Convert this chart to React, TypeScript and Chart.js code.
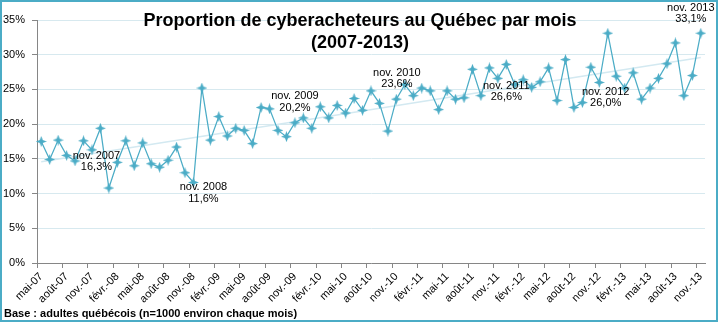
import React, { useEffect, useRef } from 'react';
import { Chart, registerables } from 'chart.js';

Chart.register(...registerables);

// ---- DATA ----
const categories: string[] = [
  'mai-07', 'juin-07', 'juil.-07', 'août-07', 'sept.-07', 'oct.-07', 'nov.-07', 'déc.-07',
  'janv.-08', 'févr.-08', 'mars-08', 'avr.-08', 'mai-08', 'juin-08', 'juil.-08', 'août-08', 'sept.-08', 'oct.-08', 'nov.-08', 'déc.-08',
  'janv.-09', 'févr.-09', 'mars-09', 'avr.-09', 'mai-09', 'juin-09', 'juil.-09', 'août-09', 'sept.-09', 'oct.-09', 'nov.-09', 'déc.-09',
  'janv.-10', 'févr.-10', 'mars-10', 'avr.-10', 'mai-10', 'juin-10', 'juil.-10', 'août-10', 'sept.-10', 'oct.-10', 'nov.-10', 'déc.-10',
  'janv.-11', 'févr.-11', 'mars-11', 'avr.-11', 'mai-11', 'juin-11', 'juil.-11', 'août-11', 'sept.-11', 'oct.-11', 'nov.-11', 'déc.-11',
  'janv.-12', 'févr.-12', 'mars-12', 'avr.-12', 'mai-12', 'juin-12', 'juil.-12', 'août-12', 'sept.-12', 'oct.-12', 'nov.-12', 'déc.-12',
  'janv.-13', 'févr.-13', 'mars-13', 'avr.-13', 'mai-13', 'juin-13', 'juil.-13', 'août-13', 'sept.-13', 'oct.-13', 'nov.-13',
];

const cyberacheteurs: number[] = [
  17.5, 14.9, 17.7, 15.5, 14.7, 17.6, 16.3, 19.4,
  10.8, 14.5, 17.6, 14.0, 17.3, 14.3, 13.8, 14.8, 16.7, 13.0, 11.6, 25.2,
  17.7, 21.1, 18.3, 19.4, 19.1, 17.2, 22.4, 22.2, 19.1, 18.2, 20.2, 20.9,
  19.4, 22.5, 20.9, 22.7, 21.6, 23.7, 22.0, 24.8, 23.0, 19.0, 23.6, 25.7,
  24.1, 25.2, 24.8, 22.1, 24.8, 23.6, 23.8, 27.9, 24.1, 28.1, 26.6, 28.6,
  25.7, 26.4, 25.3, 26.1, 28.1, 23.4, 29.3, 22.4, 23.1, 28.2, 26.0, 33.1,
  26.9, 25.2, 27.4, 23.6, 25.2, 26.6, 28.7, 31.7, 24.1, 27.0, 33.1,
];

// trend line end values
const trendStart = 14.6;
const trendEnd = 29.6;

const yTicks: number[] = [0, 5, 10, 15, 20, 25, 30, 35];

const annotatedIndex: number[] = [6, 18, 30, 42, 54, 66, 78];
const annotatedTitle: string[] = ['nov. 2007', 'nov. 2008', 'nov. 2009', 'nov. 2010', 'nov. 2011', 'nov. 2012', 'nov. 2013'];

const titleLines: string[] = ['Proportion de cyberacheteurs au Québec par mois', '(2007-2013)'];
const footerText = 'Base : adultes québécois (n=1000 environ chaque mois)';

// ---- STYLE ----
const annotationOffsets: Array<[number, number]> = [
  [4.5, 6], [10, 5], [0, -26.5], [0.5, -26.5], [8.5, 7.5], [6.4, 9], [-10, -25.4],
];
const LINE_COLOR = '#4bacc6';
const AXIS_COLOR = '#868686';
const GRID_COLOR = '#d7e9ef';
const TREND_COLOR = '#d3e9f1';
const FONT = '"Liberation Sans", Arial, sans-serif';

function makeMarker(): HTMLCanvasElement {
  const c = document.createElement('canvas');
  c.width = 11;
  c.height = 11;
  const g = c.getContext('2d')!;
  g.fillStyle = LINE_COLOR;
  g.beginPath();
  const cx = 5.5, cy = 5.5, R = 5.5, r = 2.1;
  for (let k = 0; k < 8; k++) {
    const a = -Math.PI / 2 + (k * Math.PI) / 4;
    const rr = k % 2 === 0 ? R : r;
    const px = cx + rr * Math.cos(a);
    const py = cy + rr * Math.sin(a);
    if (k === 0) g.moveTo(px, py); else g.lineTo(px, py);
  }
  g.closePath();
  g.fill();
  return c;
}

const fmt = (v: number) => v.toFixed(1).replace('.', ',') + '%';

export default function App() {
  const ref = useRef<HTMLCanvasElement | null>(null);

  useEffect(() => {
    document.body.style.margin = '0';
    const canvas = ref.current;
    if (!canvas) return;
    const marker = makeMarker();
    const last = categories.length - 1;
    const trend = categories.map((_, i) => (i === 0 ? trendStart : i === last ? trendEnd : null));

    const textPlugin = {
      id: 'texts',
      afterDraw(chart: any) {
        const ctx = chart.ctx as CanvasRenderingContext2D;
        ctx.save();
        ctx.fillStyle = '#000';
        ctx.textAlign = 'center';
        ctx.textBaseline = 'middle';
        ctx.font = `bold 18px ${FONT}`;
        ctx.fillText(titleLines[0], 360, 21);
        ctx.fillText(titleLines[1], 360, 43);

        const meta = chart.getDatasetMeta(0);
        ctx.font = `11px ${FONT}`;
        annotatedIndex.forEach((idx, k) => {
          const pt = meta.data[idx];
          const [dx, dy] = annotationOffsets[k];
          ctx.fillText(annotatedTitle[k], pt.x + dx, pt.y + dy);
          ctx.fillText(fmt(cyberacheteurs[idx]), pt.x + dx, pt.y + dy + 11.5);
        });

        ctx.textAlign = 'left';
        ctx.font = `bold 11px ${FONT}`;
        ctx.fillText(footerText, 4, 314);
        ctx.restore();
      },
    };

    const chart = new Chart(canvas, {
      type: 'line',
      data: {
        labels: categories,
        datasets: [
          {
            data: cyberacheteurs,
            borderColor: LINE_COLOR,
            backgroundColor: LINE_COLOR,
            borderWidth: 1.25,
            pointStyle: marker as any,
            pointRadius: 5,
            tension: 0,
            order: 0,
          },
          {
            data: trend as any,
            borderColor: TREND_COLOR,
            borderWidth: 1.5,
            pointRadius: 0,
            spanGaps: true,
            order: 1,
          },
        ],
      },
      options: {
        animation: false,
        responsive: false,
        maintainAspectRatio: false,
        layout: { padding: { left: 0, right: 14, top: 20, bottom: 0 } },
        plugins: {
          legend: { display: false },
          title: { display: false },
          tooltip: { enabled: false },
        },
        scales: {
          x: {
            type: 'category',
            offset: true,
            grid: {
              offset: true,
              drawOnChartArea: false,
              drawTicks: true,
              tickLength: 5,
              color: (c: any) => (c.index % 3 === 0 ? AXIS_COLOR : 'rgba(0,0,0,0)'),
              tickColor: (c: any) => (c.index % 3 === 0 ? AXIS_COLOR : 'rgba(0,0,0,0)'),
            },
            border: { display: true, color: AXIS_COLOR, width: 1 },
            ticks: {
              autoSkip: false,
              maxRotation: 45,
              minRotation: 45,
              padding: 2,
              color: '#000',
              font: { family: FONT, size: 11 },
              callback: (_v: any, i: number) => (i % 3 === 0 ? categories[i] : ''),
            },
            afterFit: (s: any) => {
              s.height = 60;
            },
          },
          y: {
            min: yTicks[0],
            max: yTicks[yTicks.length - 1],
            afterBuildTicks: (s: any) => {
              s.ticks = yTicks.map((v) => ({ value: v }));
            },
            grid: {
              color: GRID_COLOR,
              tickColor: AXIS_COLOR,
              tickLength: 5,
              drawTicks: true,
            },
            border: { display: true, color: AXIS_COLOR, width: 1 },
            ticks: {
              padding: 7,
              color: '#000',
              font: { family: FONT, size: 11 },
              callback: (v: any) => v + '%',
            },
            afterFit: (s: any) => {
              s.width = 37;
            },
          },
        },
      },
      plugins: [textPlugin],
    });
    return () => chart.destroy();
  }, []);

  return (
    <div style={{ position: 'relative', width: 719, height: 323, background: '#fff' }}>
      <canvas ref={ref} width={719} height={323} style={{ position: 'absolute', left: 0, top: 0, width: 719, height: 323 }} />
      <div
        style={{
          position: 'absolute',
          left: 0,
          top: 0,
          width: 718,
          height: 322,
          boxSizing: 'border-box',
          border: '2px solid #4bacc6',
          pointerEvents: 'none',
        }}
      />
    </div>
  );
}
